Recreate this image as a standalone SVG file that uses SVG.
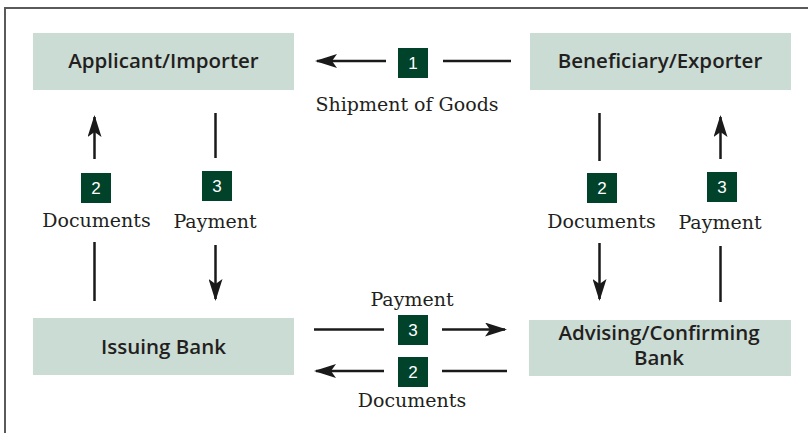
<svg xmlns="http://www.w3.org/2000/svg" width="808" height="433" viewBox="0 0 808 433">
<style>
.box{fill:#cbdcd4}
.title{font-family:"Open Sans","Liberation Sans",sans-serif;font-weight:600;font-size:20.5px;fill:#231f20;text-anchor:middle}
.lbl{font-family:"DejaVu Serif","Liberation Serif",serif;font-size:19px;fill:#231f20;text-anchor:middle}
.badge{fill:#00422a}
.num{font-family:"Liberation Sans",Arial,sans-serif;font-size:17px;fill:#ffffff;text-anchor:middle}
.ln{stroke:#1a1a1a;stroke-width:2.5;fill:none}
.arr{marker-end:url(#ah)}
</style>
<defs>
<marker id="ah" markerUnits="userSpaceOnUse" viewBox="0 0 22 14" markerWidth="22" markerHeight="14" refX="20" refY="7" orient="auto">
<path d="M0,0 L22,7 L0,14 L5,7 Z" fill="#1a1a1a"/>
</marker>
</defs>
<rect width="808" height="433" fill="#ffffff"/>
<path d="M5,433 V8 H808" fill="none" stroke="#5a5a5a" stroke-width="2"/>

<g id="applicant">
<rect class="box" x="33" y="33" width="261" height="57"/>
<text class="title" x="163.5" y="67.5">Applicant/Importer</text>
</g>
<g id="beneficiary">
<rect class="box" x="530" y="33" width="261" height="57"/>
<text class="title" x="660" y="67.5">Beneficiary/Exporter</text>
</g>
<g id="issuing">
<rect class="box" x="33" y="318" width="261" height="57"/>
<text class="title" x="163.5" y="353.5">Issuing Bank</text>
</g>
<g id="advising">
<rect class="box" x="529" y="320" width="262" height="56"/>
<text class="title" x="659" y="339.5">Advising/Confirming</text>
<text class="title" x="659" y="365">Bank</text>
</g>

<g id="connectors">
<line class="ln arr" x1="386" y1="61" x2="317" y2="61"/>
<line class="ln" x1="443" y1="61" x2="511" y2="61"/>

<line class="ln" x1="314" y1="329.5" x2="384" y2="329.5"/>
<line class="ln arr" x1="442" y1="329.5" x2="505" y2="329.5"/>
<line class="ln arr" x1="384" y1="371" x2="316" y2="371"/>
<line class="ln" x1="442" y1="371" x2="507" y2="371"/>

<line class="ln arr" x1="94.5" y1="159" x2="94.5" y2="117"/>
<line class="ln" x1="94.5" y1="242" x2="94.5" y2="301"/>
<line class="ln" x1="215.5" y1="113" x2="215.5" y2="158"/>
<line class="ln arr" x1="215.5" y1="245" x2="215.5" y2="299"/>
<line class="ln" x1="599.5" y1="113" x2="599.5" y2="161"/>
<line class="ln arr" x1="599.5" y1="243" x2="599.5" y2="299"/>
<line class="ln arr" x1="720.5" y1="159" x2="720.5" y2="117"/>
<line class="ln" x1="720.5" y1="246" x2="720.5" y2="302"/>
</g>

<g id="labels">
<rect class="badge" x="398" y="48" width="30" height="30"/>
<text class="num" x="413" y="69">1</text>
<text class="lbl" x="407" y="110.5">Shipment of Goods</text>

<rect class="badge" x="81" y="173" width="30" height="30"/>
<text class="num" x="96" y="194">2</text>
<text class="lbl" x="96.5" y="227">Documents</text>
<rect class="badge" x="202" y="171" width="30" height="30"/>
<text class="num" x="217" y="192">3</text>
<text class="lbl" x="215" y="227.5">Payment</text>

<rect class="badge" x="587" y="173" width="30" height="30"/>
<text class="num" x="602" y="194">2</text>
<text class="lbl" x="601.5" y="227.5">Documents</text>
<rect class="badge" x="707" y="172" width="30" height="30"/>
<text class="num" x="722" y="193">3</text>
<text class="lbl" x="720" y="229">Payment</text>

<text class="lbl" x="412" y="306">Payment</text>
<rect class="badge" x="398" y="315" width="30" height="30"/>
<text class="num" x="413" y="336">3</text>
<rect class="badge" x="398" y="357" width="30" height="30"/>
<text class="num" x="413" y="378">2</text>
<text class="lbl" x="412" y="407">Documents</text>
</g>
</svg>
